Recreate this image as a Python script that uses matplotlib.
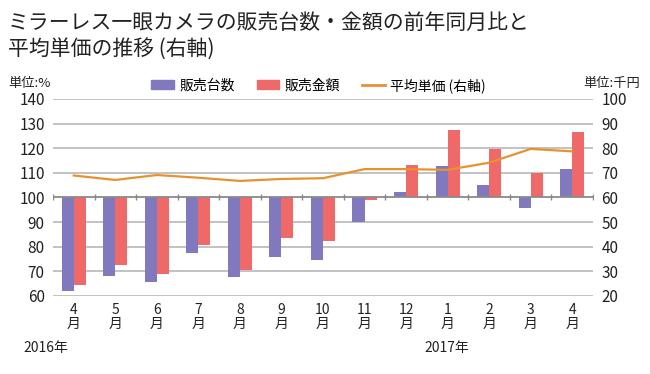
import numpy as np
import matplotlib.pyplot as plt
from matplotlib.patches import Rectangle
from matplotlib.lines import Line2D

plt.rcParams['font.family'] = ['Noto Sans CJK JP', 'DejaVu Sans']

months = ['4', '5', '6', '7', '8', '9', '10', '11', '12', '1', '2', '3', '4']
units = [62.0, 68.1, 65.5, 77.3, 67.6, 76.0, 74.8, 89.9, 102.4, 112.7, 105.2, 95.9, 111.7]
sales = [64.4, 72.4, 68.8, 80.8, 70.4, 83.5, 82.4, 98.8, 113.3, 127.2, 119.5, 110.0, 126.7]
avg_price = [68.9, 67.1, 69.1, 68.0, 66.7, 67.5, 67.8, 71.5, 71.5, 71.2, 74.1, 79.7, 78.7]

purple = '#8179BD'
red = '#EE6967'
orange = '#E8922E'
grid = '#BDBDBD'
txt = '#222222'

fig = plt.figure(figsize=(6.5, 3.74), dpi=100)
ax = fig.add_axes([0.0815, 0.2086, 0.8308, 0.527])
x = np.arange(len(months))
w = 0.29
base = 100

ax.bar(x - w / 2, np.array(units) - base, w, bottom=base, color=purple, zorder=3)
ax.bar(x + w / 2, np.array(sales) - base, w, bottom=base, color=red, zorder=3)

ax.set_ylim(60, 140)
ax.set_xlim(-0.5, len(months) - 0.5)
ax.set_yticks(range(60, 141, 10))
for v in range(60, 141, 10):
    if v != base:
        ax.axhline(v, color=grid, lw=1.3, zorder=1)
# baseline with small tick marks between months
ax.axhline(base, color='#8A8A8A', lw=1.3, zorder=4)
ax.plot(np.arange(len(months) + 1) - 0.5, [base] * (len(months) + 1), ls='none',
        marker='|', ms=5, mew=1, color='#8A8A8A', zorder=4)

for s in ax.spines.values():
    s.set_visible(False)
ax.tick_params(axis='y', length=0, labelsize=11, pad=6, labelcolor=txt)
ax.set_xticks(x)
ax.set_xticklabels([m + '\n月' for m in months], fontsize=10, linespacing=1.0, color=txt)
ax.tick_params(axis='x', length=0, pad=5)

ax2 = ax.twinx()
ax2.plot(x, avg_price, color=orange, lw=1.6, zorder=5)
ax2.set_ylim(20, 100)
ax2.set_yticks(range(20, 101, 10))
for s in ax2.spines.values():
    s.set_visible(False)
ax2.tick_params(axis='y', length=0, labelsize=11, pad=6, labelcolor=txt)

fig.text(0.012, 0.94, 'ミラーレス一眼カメラの販売台数・金額の前年同月比と', fontsize=15, va='center', color=txt)
fig.text(0.012, 0.866, '平均単価の推移 (右軸)', fontsize=15, va='center', color=txt)
fig.text(0.012, 0.778, '単位:%', fontsize=9.5, va='center', color=txt)
fig.text(0.985, 0.778, '単位:千円', fontsize=9.5, va='center', ha='right', color=txt)

handles = [Rectangle((0, 0), 1, 1, color=purple), Rectangle((0, 0), 1, 1, color=red),
           Line2D([0], [0], color=orange, lw=2)]
fig.legend(handles, ['販売台数', '販売金額', '平均単価 (右軸)'], loc='center', ncol=3,
           bbox_to_anchor=(0.49, 0.772), frameon=False, fontsize=10, handlelength=1.6,
           handleheight=0.6, columnspacing=1.6, handletextpad=0.4)

fig.text(0.071, 0.07, '2016年', fontsize=10, va='center', ha='center', color=txt)
fig.text(0.688, 0.07, '2017年', fontsize=10, va='center', ha='center', color=txt)

fig.savefig('out.png', dpi=100, facecolor='white')
